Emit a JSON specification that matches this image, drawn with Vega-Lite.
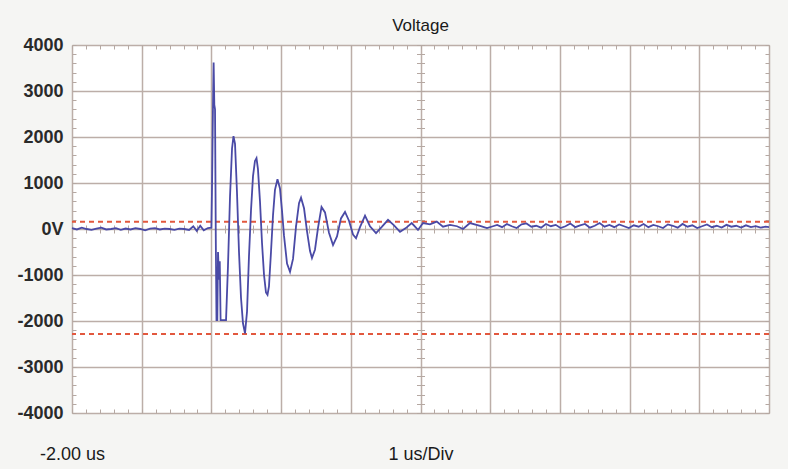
{
  "$schema": "https://vega.github.io/schema/vega-lite/v6.json",
  "width": 697,
  "height": 368,
  "autosize": {"type": "none"},
  "padding": {"left": 72, "top": 45, "right": 19, "bottom": 56},
  "background": "#f5f5f3",
  "title": {"text": "Voltage", "fontSize": 17, "font": "Liberation Sans", "fontWeight": "normal", "color": "#1a1a1a", "anchor": "middle", "baseline": "alphabetic", "offset": -12},
  "config": {
    "view": {"stroke": null, "fill": "white"},
    "axis": {"labelFont": "Liberation Sans", "titleFont": "Liberation Sans"}
  },
  "datasets": {
    "trace": [
      {"t": -2.0, "v": 20}, {"t": -1.93, "v": -10}, {"t": -1.86, "v": 30}, {"t": -1.79, "v": 0}, {"t": -1.72, "v": -20},
      {"t": -1.65, "v": 10}, {"t": -1.58, "v": 30}, {"t": -1.51, "v": -10}, {"t": -1.44, "v": 0}, {"t": -1.37, "v": 20},
      {"t": -1.3, "v": -20}, {"t": -1.23, "v": 10}, {"t": -1.16, "v": -10}, {"t": -1.09, "v": 20}, {"t": -1.02, "v": 0},
      {"t": -0.95, "v": -30}, {"t": -0.88, "v": 10}, {"t": -0.81, "v": 20}, {"t": -0.74, "v": -10}, {"t": -0.67, "v": 10},
      {"t": -0.6, "v": 0}, {"t": -0.53, "v": -20}, {"t": -0.46, "v": 10}, {"t": -0.39, "v": 0}, {"t": -0.32, "v": -20},
      {"t": -0.26, "v": 60}, {"t": -0.21, "v": -40}, {"t": -0.16, "v": 70}, {"t": -0.11, "v": -30}, {"t": -0.05, "v": 20},
      {"t": 0.0, "v": 30}, {"t": 0.009, "v": 900}, {"t": 0.023, "v": 2700}, {"t": 0.032, "v": 3620}, {"t": 0.042, "v": 2700},
      {"t": 0.052, "v": 2600}, {"t": 0.063, "v": -200}, {"t": 0.073, "v": -1980}, {"t": 0.085, "v": -1980}, {"t": 0.095, "v": -500},
      {"t": 0.109, "v": -1100}, {"t": 0.12, "v": -700}, {"t": 0.132, "v": -1980}, {"t": 0.21, "v": -1980}, {"t": 0.238, "v": -800},
      {"t": 0.267, "v": 700}, {"t": 0.296, "v": 1750}, {"t": 0.317, "v": 2020}, {"t": 0.339, "v": 1850}, {"t": 0.367, "v": 800},
      {"t": 0.396, "v": -500}, {"t": 0.425, "v": -1500}, {"t": 0.453, "v": -2050}, {"t": 0.482, "v": -2270}, {"t": 0.511, "v": -1800},
      {"t": 0.539, "v": -600}, {"t": 0.568, "v": 400}, {"t": 0.597, "v": 1150}, {"t": 0.625, "v": 1480}, {"t": 0.647, "v": 1540},
      {"t": 0.668, "v": 1300}, {"t": 0.697, "v": 600}, {"t": 0.726, "v": -300}, {"t": 0.755, "v": -1000}, {"t": 0.783, "v": -1380},
      {"t": 0.805, "v": -1430}, {"t": 0.826, "v": -1250}, {"t": 0.855, "v": -500}, {"t": 0.884, "v": 300}, {"t": 0.912, "v": 850},
      {"t": 0.948, "v": 1080}, {"t": 0.984, "v": 880}, {"t": 1.013, "v": 400}, {"t": 1.042, "v": -150}, {"t": 1.085, "v": -750},
      {"t": 1.128, "v": -930}, {"t": 1.171, "v": -650}, {"t": 1.214, "v": 50}, {"t": 1.257, "v": 560}, {"t": 1.286, "v": 680},
      {"t": 1.329, "v": 450}, {"t": 1.372, "v": -50}, {"t": 1.415, "v": -480}, {"t": 1.443, "v": -630}, {"t": 1.486, "v": -450},
      {"t": 1.529, "v": 20}, {"t": 1.58, "v": 480}, {"t": 1.63, "v": 360}, {"t": 1.687, "v": -80}, {"t": 1.745, "v": -350},
      {"t": 1.802, "v": -160}, {"t": 1.859, "v": 230}, {"t": 1.917, "v": 370}, {"t": 1.974, "v": 180}, {"t": 2.032, "v": -120},
      {"t": 2.075, "v": -200}, {"t": 2.132, "v": 40}, {"t": 2.204, "v": 290}, {"t": 2.275, "v": 60}, {"t": 2.362, "v": -90},
      {"t": 2.448, "v": 50}, {"t": 2.534, "v": 200}, {"t": 2.62, "v": 80}, {"t": 2.706, "v": -60}, {"t": 2.79, "v": 20},
      {"t": 2.874, "v": 130}, {"t": 2.964, "v": -20}, {"t": 3.036, "v": 130}, {"t": 3.136, "v": 100}, {"t": 3.233, "v": 160},
      {"t": 3.323, "v": 50}, {"t": 3.423, "v": 90}, {"t": 3.524, "v": 60}, {"t": 3.61, "v": 0}, {"t": 3.71, "v": 130},
      {"t": 3.854, "v": 70}, {"t": 3.954, "v": 20}, {"t": 4.04, "v": 60}, {"t": 4.1, "v": 90}, {"t": 4.17, "v": 40},
      {"t": 4.24, "v": 110}, {"t": 4.31, "v": 60}, {"t": 4.38, "v": 20}, {"t": 4.45, "v": 100}, {"t": 4.52, "v": 120},
      {"t": 4.59, "v": 50}, {"t": 4.66, "v": 70}, {"t": 4.73, "v": 30}, {"t": 4.8, "v": 110}, {"t": 4.87, "v": 60},
      {"t": 4.94, "v": 90}, {"t": 5.01, "v": 20}, {"t": 5.08, "v": 60}, {"t": 5.15, "v": 120}, {"t": 5.22, "v": 40},
      {"t": 5.29, "v": 80}, {"t": 5.36, "v": 110}, {"t": 5.43, "v": 30}, {"t": 5.5, "v": 70}, {"t": 5.57, "v": 130},
      {"t": 5.64, "v": 50}, {"t": 5.71, "v": 90}, {"t": 5.78, "v": 40}, {"t": 5.85, "v": 100}, {"t": 5.92, "v": 60},
      {"t": 5.99, "v": 20}, {"t": 6.06, "v": 80}, {"t": 6.13, "v": 50}, {"t": 6.2, "v": 110}, {"t": 6.27, "v": 40},
      {"t": 6.34, "v": 90}, {"t": 6.41, "v": 60}, {"t": 6.48, "v": 20}, {"t": 6.55, "v": 100}, {"t": 6.62, "v": 70},
      {"t": 6.69, "v": 30}, {"t": 6.76, "v": 110}, {"t": 6.83, "v": 50}, {"t": 6.9, "v": 80}, {"t": 6.97, "v": 20},
      {"t": 7.04, "v": 60}, {"t": 7.11, "v": 100}, {"t": 7.18, "v": 40}, {"t": 7.25, "v": 70}, {"t": 7.32, "v": 30},
      {"t": 7.39, "v": 90}, {"t": 7.46, "v": 50}, {"t": 7.53, "v": 70}, {"t": 7.6, "v": 30}, {"t": 7.67, "v": 80},
      {"t": 7.74, "v": 40}, {"t": 7.81, "v": 60}, {"t": 7.88, "v": 30}, {"t": 7.95, "v": 50}, {"t": 8.0, "v": 40}
    ],
    "levels": [{"level": 160}, {"level": -2280}]
  },
  "resolve": {"axis": {"x": "independent", "y": "independent"}},
  "layer": [
    {
      "data": {"name": "trace"},
      "mark": {"type": "line", "opacity": 0},
      "encoding": {
        "x": {"field": "t", "type": "quantitative", "scale": {"domain": [-2, 8], "nice": false, "zero": false},
          "axis": {"orient": "top", "offset": -4, "tickSize": 4, "tickColor": "#b5a8a2", "tickWidth": 1, "labels": false, "domain": false, "grid": false, "title": null,
            "values": [-2,-1.8,-1.6,-1.4,-1.2,-1,-0.8,-0.6,-0.4,-0.2,0,0.2,0.4,0.6,0.8,1,1.2,1.4,1.6,1.8,2,2.2,2.4,2.6,2.8,3,3.2,3.4,3.6,3.8,4,4.2,4.4,4.6,4.8,5,5.2,5.4,5.6,5.8,6,6.2,6.4,6.6,6.8,7,7.2,7.4,7.6,7.8,8]}},
        "y": {"field": "v", "type": "quantitative", "scale": {"domain": [-4000, 4000], "nice": false, "zero": false},
          "axis": {"orient": "left", "offset": -4, "tickSize": 4, "tickColor": "#b5a8a2", "tickWidth": 1, "labels": false, "domain": false, "grid": false, "title": null,
            "values": [-4000,-3800,-3600,-3400,-3200,-3000,-2800,-2600,-2400,-2200,-2000,-1800,-1600,-1400,-1200,-1000,-800,-600,-400,-200,0,200,400,600,800,1000,1200,1400,1600,1800,2000,2200,2400,2600,2800,3000,3200,3400,3600,3800,4000]}}
      }
    },
    {
      "data": {"name": "trace"},
      "mark": {"type": "line", "opacity": 0},
      "encoding": {
        "x": {"field": "t", "type": "quantitative", "scale": {"domain": [-2, 8], "nice": false, "zero": false},
          "axis": {"orient": "bottom", "offset": -4, "tickSize": 4, "tickColor": "#b5a8a2", "tickWidth": 1, "labels": false, "domain": false, "grid": false, "title": null,
            "values": [-2,-1.8,-1.6,-1.4,-1.2,-1,-0.8,-0.6,-0.4,-0.2,0,0.2,0.4,0.6,0.8,1,1.2,1.4,1.6,1.8,2,2.2,2.4,2.6,2.8,3,3.2,3.4,3.6,3.8,4,4.2,4.4,4.6,4.8,5,5.2,5.4,5.6,5.8,6,6.2,6.4,6.6,6.8,7,7.2,7.4,7.6,7.8,8]}},
        "y": {"field": "v", "type": "quantitative", "scale": {"domain": [-4000, 4000], "nice": false, "zero": false},
          "axis": {"orient": "right", "offset": -4, "tickSize": 4, "tickColor": "#b5a8a2", "tickWidth": 1, "labels": false, "domain": false, "grid": false, "title": null,
            "values": [-4000,-3800,-3600,-3400,-3200,-3000,-2800,-2600,-2400,-2200,-2000,-1800,-1600,-1400,-1200,-1000,-800,-600,-400,-200,0,200,400,600,800,1000,1200,1400,1600,1800,2000,2200,2400,2600,2800,3000,3200,3400,3600,3800,4000]}}
      }
    },
    {
      "data": {"name": "trace"},
      "mark": {"type": "line", "opacity": 0},
      "encoding": {
        "x": {"field": "t", "type": "quantitative", "scale": {"domain": [-2, 8], "nice": false, "zero": false},
          "axis": {"orient": "bottom", "offset": -188, "tickSize": 8, "tickColor": "#b5a8a2", "tickWidth": 1, "labels": false, "domain": false, "grid": false, "title": null,
            "values": [-2,-1.8,-1.6,-1.4,-1.2,-1,-0.8,-0.6,-0.4,-0.2,0,0.2,0.4,0.6,0.8,1,1.2,1.4,1.6,1.8,2,2.2,2.4,2.6,2.8,3,3.2,3.4,3.6,3.8,4,4.2,4.4,4.6,4.8,5,5.2,5.4,5.6,5.8,6,6.2,6.4,6.6,6.8,7,7.2,7.4,7.6,7.8,8]}},
        "y": {"field": "v", "type": "quantitative", "scale": {"domain": [-4000, 4000], "nice": false, "zero": false},
          "axis": {"orient": "left", "offset": -352.5, "tickSize": 8, "tickColor": "#b5a8a2", "tickWidth": 1, "labels": false, "domain": false, "grid": false, "title": null,
            "values": [-4000,-3800,-3600,-3400,-3200,-3000,-2800,-2600,-2400,-2200,-2000,-1800,-1600,-1400,-1200,-1000,-800,-600,-400,-200,0,200,400,600,800,1000,1200,1400,1600,1800,2000,2200,2400,2600,2800,3000,3200,3400,3600,3800,4000]}}
      }
    },
    {
      "data": {"name": "levels"},
      "mark": {"type": "rule", "color": "#e2583e", "strokeWidth": 2, "strokeDash": [5, 4]},
      "encoding": {
        "y": {"field": "level", "type": "quantitative", "scale": {"domain": [-4000, 4000], "nice": false, "zero": false}, "axis": null}
      }
    },
    {
      "data": {"name": "trace"},
      "mark": {"type": "line", "color": "#4a4aa6", "strokeWidth": 1.8},
      "encoding": {
        "x": {"field": "t", "type": "quantitative", "scale": {"domain": [-2, 8], "nice": false, "zero": false},
          "axis": {"orient": "bottom", "values": [-2,-1,0,1,2,3,4,5,6,7,8], "grid": true, "gridColor": "#bcaea8", "gridWidth": 1.5, "gridOpacity": 1, "ticks": false, "domain": false,
            "labelExpr": "datum.value == -2 ? '-2.00 us' : ''", "labelFlush": false, "labelOverlap": false, "labelAlign": "center", "labelBaseline": "alphabetic", "labelPadding": 46, "labelFontSize": 18, "labelFontWeight": "normal", "labelColor": "#1a1a1a",
            "title": "1 us/Div", "titleFontSize": 18, "titleFontWeight": "normal", "titleColor": "#1a1a1a", "titleBaseline": "alphabetic", "titleY": 46, "titleAnchor": "middle"}},
        "y": {"field": "v", "type": "quantitative", "scale": {"domain": [-4000, 4000], "nice": false, "zero": false},
          "axis": {"orient": "left", "values": [-4000,-3000,-2000,-1000,0,1000,2000,3000,4000], "grid": true, "gridColor": "#bcaea8", "gridWidth": 1.5, "gridOpacity": 1, "ticks": false, "domain": false,
            "labelExpr": "datum.value == 0 ? '0V' : '' + datum.value", "labelFlush": false, "labelOverlap": false, "labelPadding": 9, "labelFontSize": 18, "labelFontWeight": "bold", "labelColor": "#2a2a2a", "labelBaseline": "middle",
            "title": null}}
      }
    }
  ]
}
